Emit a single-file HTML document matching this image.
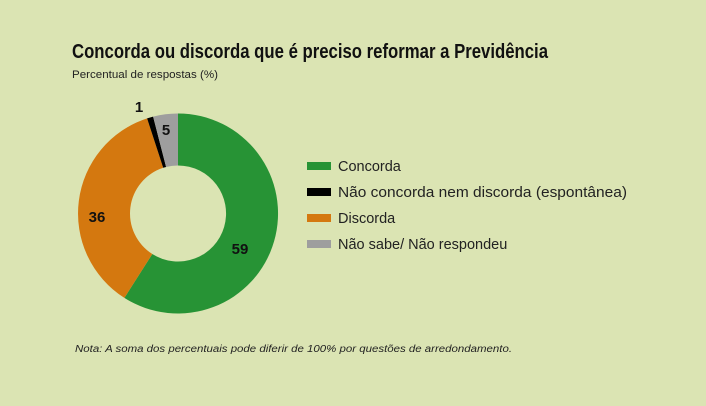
<!DOCTYPE html>
<html><head><meta charset="utf-8"><style>
html,body{margin:0;padding:0;background:#dbe4b3;}
svg{display:block;font-family:"Liberation Sans",sans-serif;}
</style></head><body>
<svg width="706" height="406" viewBox="0 0 706 406">
<rect width="706" height="406" fill="#dbe4b3"/>
<text x="72" y="58" font-size="20" font-weight="bold" fill="#111" textLength="476" lengthAdjust="spacingAndGlyphs">Concorda ou discorda que é preciso reformar a Previdência</text>
<text x="72" y="78" font-size="11" fill="#222" textLength="146" lengthAdjust="spacingAndGlyphs">Percentual de respostas (%)</text>
<path d="M178 113.5 A100 100 0 1 1 124.4 297.9 L152.3 254 A48 48 0 1 0 178 165.5 Z" fill="#279335"/>
<path d="M124.4 297.9 A100 100 0 0 1 147.1 118.4 L163.2 167.8 A48 48 0 0 0 152.3 254 Z" fill="#d4780f"/>
<path d="M147.1 118.4 A100 100 0 0 1 153.1 116.6 L166.1 167 A48 48 0 0 0 163.2 167.8 Z" fill="#000"/>
<path d="M153.1 116.6 A100 100 0 0 1 178 113.5 L178 165.5 A48 48 0 0 0 166.1 167 Z" fill="#9e9e9e"/>
<g font-size="15" font-weight="bold" fill="#111" text-anchor="middle">
<text x="240" y="254">59</text>
<text x="97" y="222">36</text>
<text x="166" y="135">5</text>
<text x="139" y="112">1</text>
</g>
<rect x="307" y="162" width="24" height="8" fill="#279335"/>
<rect x="307" y="188" width="24" height="8" fill="#000"/>
<rect x="307" y="214" width="24" height="8" fill="#d4780f"/>
<rect x="307" y="240" width="24" height="8" fill="#9e9e9e"/>
<g font-size="14.5" fill="#222">
<text x="338" y="171">Concorda</text>
<text x="338" y="197" textLength="289" lengthAdjust="spacingAndGlyphs">Não concorda nem discorda (espontânea)</text>
<text x="338" y="223">Discorda</text>
<text x="338" y="249">Não sabe/ Não respondeu</text>
</g>
<text x="75" y="352" font-size="10" font-style="italic" fill="#222" textLength="437" lengthAdjust="spacingAndGlyphs">Nota: A soma dos percentuais pode diferir de 100% por questões de arredondamento.</text>
</svg>
</body></html>
